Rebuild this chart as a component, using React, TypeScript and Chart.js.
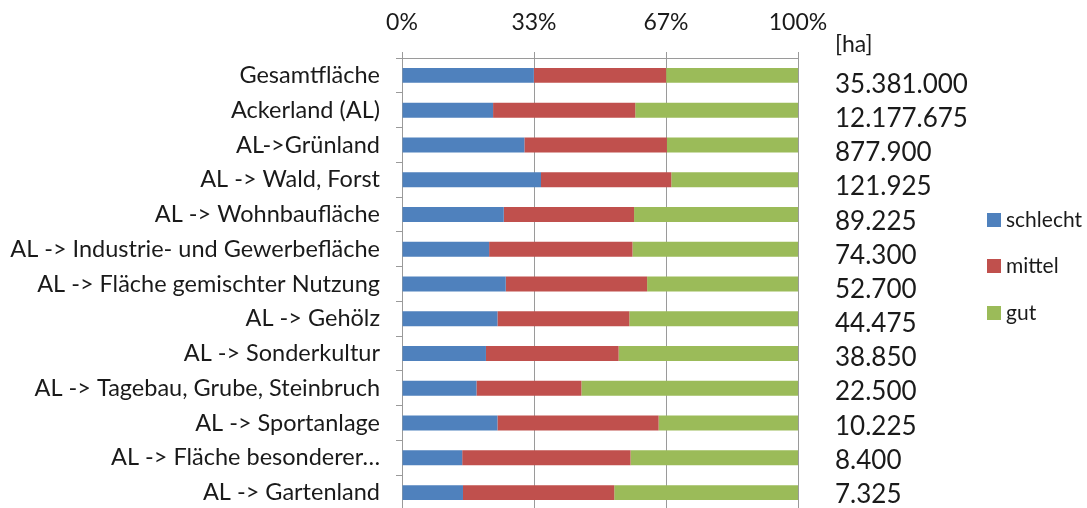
import React, { useEffect, useRef } from 'react';
import { Chart, registerables } from 'chart.js';

Chart.register(...registerables);

const categories = [
  'Gesamtfläche',
  'Ackerland (AL)',
  'AL->Grünland',
  'AL -> Wald, Forst',
  'AL -> Wohnbaufläche',
  'AL -> Industrie- und Gewerbefläche',
  'AL -> Fläche gemischter Nutzung',
  'AL -> Gehölz',
  'AL -> Sonderkultur',
  'AL -> Tagebau, Grube, Steinbruch',
  'AL -> Sportanlage',
  'AL -> Fläche besonderer…',
  'AL -> Gartenland',
];

const schlecht = [33.3, 23.0, 30.9, 35.1, 25.7, 22.0, 26.2, 24.1, 21.2, 18.8, 24.1, 15.2, 15.4];
const mittel = [33.4, 35.9, 36.0, 32.9, 32.9, 36.2, 35.7, 33.3, 33.5, 26.5, 40.7, 42.5, 38.2];
const gut = [33.3, 41.1, 33.1, 32.0, 41.4, 41.8, 38.1, 42.6, 45.3, 54.7, 35.2, 42.3, 46.4];

const haLabels = [
  '35.381.000',
  '12.177.675',
  '877.900',
  '121.925',
  '89.225',
  '74.300',
  '52.700',
  '44.475',
  '38.850',
  '22.500',
  '10.225',
  '8.400',
  '7.325',
];

const xTickValues = [0, 100 / 3, 200 / 3, 100];
const seriesNames = ['schlecht', 'mittel', 'gut'];
const seriesColors = ['#4F81BD', '#C0504D', '#9BBB59'];
const unitLabel = '[ha]';

const FONT = 'Lato, "Open Sans", sans-serif';

const overlayPlugin = {
  id: 'overlay',
  afterDraw(chart: any) {
    const ctx = chart.ctx;
    const yScale = chart.scales.y;
    const textX = chart.chartArea.right + 37;
    ctx.save();
    ctx.fillStyle = '#1a1a1a';
    ctx.textBaseline = 'middle';
    ctx.textAlign = 'left';
    ctx.font = `23px ${FONT}`;
    ctx.fillText(unitLabel, textX, 45);
    // hectare text column (separate text box, slightly tighter spacing than rows)
    ctx.font = `26px ${FONT}`;
    const n = haLabels.length;
    const yFirst = yScale.getPixelForValue(0) + 9;
    const yLast = yScale.getPixelForValue(n - 1) + 2;
    haLabels.forEach((t, i) => {
      const yy = yFirst + ((yLast - yFirst) * i) / (n - 1);
      ctx.fillText(t, textX, yy);
    });
    // legend
    ctx.font = `21px ${FONT}`;
    const lx = 987;
    const ly = [220, 266, 313];
    seriesNames.forEach((name, i) => {
      ctx.fillStyle = seriesColors[i];
      ctx.fillRect(lx, ly[i] - 7, 14, 14);
      ctx.fillStyle = '#1a1a1a';
      ctx.fillText(name, lx + 19, ly[i]);
    });
    ctx.restore();
  },
};

export default function App() {
  const ref = useRef<HTMLCanvasElement | null>(null);
  useEffect(() => {
    if (!ref.current) return;
    const chart = new Chart(ref.current, {
      type: 'bar',
      data: {
        labels: categories,
        datasets: [
          { label: seriesNames[0], data: schlecht, backgroundColor: seriesColors[0] },
          { label: seriesNames[1], data: mittel, backgroundColor: seriesColors[1] },
          { label: seriesNames[2], data: gut, backgroundColor: seriesColors[2] },
        ],
      },
      options: {
        indexAxis: 'y',
        animation: false,
        responsive: true,
        maintainAspectRatio: false,
        layout: { padding: { left: 0, right: 289, top: 0, bottom: 0 } },
        datasets: { bar: { barPercentage: 1, categoryPercentage: 0.43 } },
        plugins: {
          legend: { display: false },
          tooltip: { enabled: false },
        },
        scales: {
          x: {
            position: 'top',
            stacked: true,
            min: 0,
            max: 100,
            afterBuildTicks: (scale: any) => {
              scale.ticks = xTickValues.map((v) => ({ value: v }));
            },
            afterFit: (scale: any) => {
              scale.height = 58;
              scale.paddingLeft = 0;
              scale.paddingRight = 0;
            },
            ticks: {
              callback: (v: any) => Math.round(Number(v)) + '%',
              font: { family: FONT, size: 23 },
              color: '#1a1a1a',
              padding: 16,
              maxRotation: 0,
            },
            grid: { color: '#9a9a9a', tickLength: 6, lineWidth: 1 },
            border: { color: '#9a9a9a' },
          },
          y: {
            stacked: true,
            afterFit: (scale: any) => {
              scale.width = 402;
              scale.paddingTop = 0;
              scale.paddingBottom = 0;
            },
            ticks: {
              font: { family: FONT, size: 23.5 },
              color: '#1a1a1a',
              padding: 16,
              autoSkip: false,
            },
            grid: { drawOnChartArea: false, color: '#9a9a9a', tickLength: 6, offset: true },
            border: { color: '#9a9a9a' },
          },
        },
      } as any,
      plugins: [overlayPlugin],
    });
    return () => chart.destroy();
  }, []);
  return (
    <div style={{ position: 'absolute', left: 0, top: 0, width: 1087, height: 508, overflow: 'hidden', background: '#fff' }}>
      <div style={{ position: 'relative', width: 1087, height: 510 }}>
        <canvas ref={ref} />
      </div>
    </div>
  );
}
